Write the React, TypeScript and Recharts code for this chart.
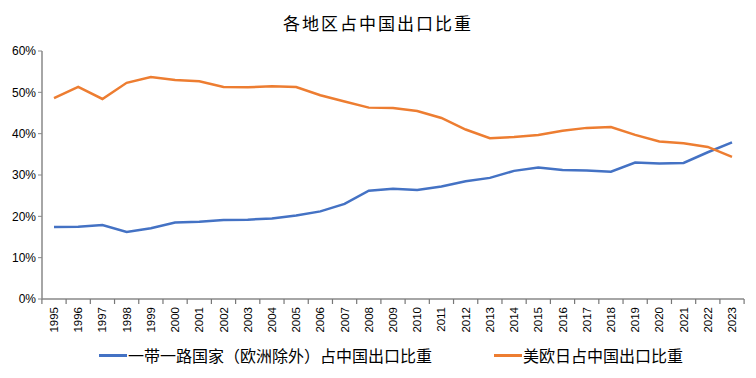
import React from 'react'
import { LineChart, Line, XAxis, YAxis, Legend } from 'recharts'

const years = [
  '1995', '1996', '1997', '1998', '1999', '2000', '2001', '2002', '2003', '2004',
  '2005', '2006', '2007', '2008', '2009', '2010', '2011', '2012', '2013', '2014',
  '2015', '2016', '2017', '2018', '2019', '2020', '2021', '2022', '2023',
]

// 一带一路国家（欧洲除外）占中国出口比重, %
const beltRoad = [
  17.4, 17.5, 17.9, 16.2, 17.1, 18.5, 18.7, 19.1, 19.2, 19.5,
  20.2, 21.2, 23.0, 26.2, 26.7, 26.4, 27.2, 28.5, 29.3, 31.0,
  31.8, 31.2, 31.1, 30.8, 33.0, 32.8, 32.9, 35.5, 37.9,
]

// 美欧日占中国出口比重, %
const usEuJp = [
  48.6, 51.3, 48.4, 52.3, 53.7, 53.0, 52.7, 51.3, 51.2, 51.5,
  51.3, 49.3, 47.8, 46.3, 46.2, 45.5, 43.8, 41.0, 38.9, 39.2,
  39.7, 40.7, 41.4, 41.6, 39.7, 38.1, 37.7, 36.8, 34.4,
]

const yTicks = [0, 10, 20, 30, 40, 50, 60]

const seriesNames = ['一带一路国家（欧洲除外）占中国出口比重', '美欧日占中国出口比重']
const BLUE = '#4472C4'
const ORANGE = '#ED7D31'

const data = years.map((y, i) => ({ year: y, a: beltRoad[i], b: usEuJp[i] }))

const font = '"Liberation Sans", Arial, sans-serif'
const cjk = '"Noto Sans CJK SC", sans-serif'
const HALF = 12.1 // half a category, tick marks sit between years

const XTick = (props: any) => {
  const { x, y, payload, index } = props
  const axisY = y - 6 // tickSize 4 + tickMargin 2
  return (
    <g>
      <line x1={x - HALF} x2={x - HALF} y1={axisY} y2={axisY + 5} stroke="#777" strokeWidth={1.2} />
      {index === years.length - 1 && (
        <line x1={x + HALF} x2={x + HALF} y1={axisY} y2={axisY + 5} stroke="#777" strokeWidth={1.2} />
      )}
      <text
        x={x}
        y={y + 2}
        transform={`rotate(-90, ${x}, ${y + 2})`}
        textAnchor="end"
        dominantBaseline="central"
        fontSize={11.5}
        fontFamily={font}
        fill="#000"
      >
        {payload.value}
      </text>
    </g>
  )
}

const LegendContent = () => (
  <div style={{ display: 'flex', fontFamily: cjk, fontSize: 16, color: '#000' }}>
    {seriesNames.map((n, i) => (
      <div
        key={n}
        style={{ display: 'flex', alignItems: 'center', marginLeft: i === 0 ? 99 : 62 }}
      >
        <span
          style={{
            display: 'inline-block', width: 28, height: 3,
            background: i === 0 ? BLUE : ORANGE, marginRight: 1,
          }}
        />
        <span>{n}</span>
      </div>
    ))}
  </div>
)

export default function App() {
  return (
    <div style={{ position: 'absolute', left: 0, top: 0, width: 756, height: 378, background: '#fff' }}>
      <div
        style={{
          position: 'absolute', left: 0, top: 10, width: 756, textAlign: 'center',
          fontFamily: cjk, fontSize: 17, letterSpacing: 2, color: '#000',
        }}
      >
        各地区占中国出口比重
      </div>
      <LineChart
        width={756}
        height={378}
        data={data}
        margin={{ top: 51, right: 12, left: 8, bottom: 17 }}
      >
        <XAxis
          dataKey="year"
          interval={0}
          height={38}
          padding={{ left: 12, right: 12 }}
          tick={<XTick />}
          tickSize={4}
          tickLine={false}
          axisLine={{ stroke: '#888', strokeWidth: 1.5 }}
        />
        <YAxis
          width={34}
          domain={[0, 60]}
          ticks={yTicks}
          interval={0}
          tickFormatter={(v: number) => `${v}%`}
          tick={{ fontSize: 12, fill: '#000', fontFamily: font }}
          tickSize={4}
          axisLine={{ stroke: '#888', strokeWidth: 1.5 }}
          tickLine={{ stroke: '#888' }}
        />
        <Line
          dataKey="a"
          name={seriesNames[0]}
          stroke={BLUE}
          strokeWidth={2.5}
          dot={false}
          isAnimationActive={false}
        />
        <Line
          dataKey="b"
          name={seriesNames[1]}
          stroke={ORANGE}
          strokeWidth={2.5}
          dot={false}
          isAnimationActive={false}
        />
        <Legend
          verticalAlign="bottom"
          content={<LegendContent />}
          wrapperStyle={{ left: 0, top: 343, width: 756 }}
        />
      </LineChart>
    </div>
  )
}
